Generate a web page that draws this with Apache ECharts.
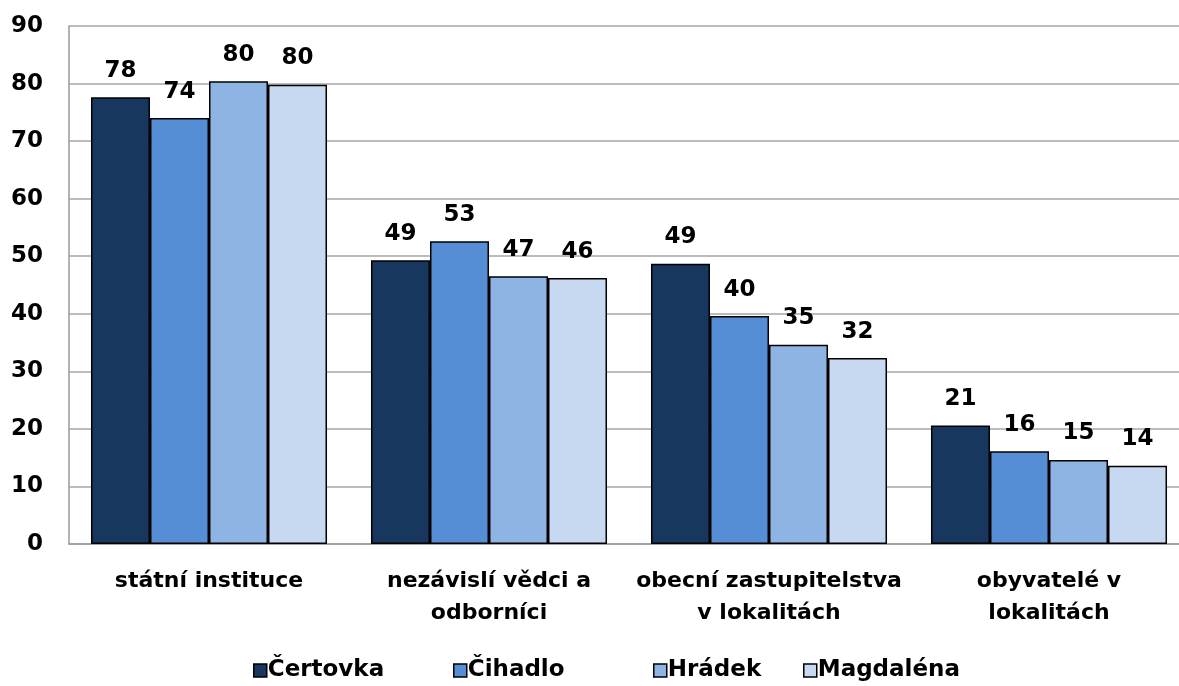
<!DOCTYPE html>
<html><head><meta charset="utf-8">
<script src="https://cdn.jsdelivr.net/npm/echarts@6/dist/echarts.min.js"></script>
<style>html,body{margin:0;padding:0;background:#fff}#c{width:1179px;height:686px}</style>
</head><body><div id="c"></div>
<script>
var categories = ['státní instituce', 'nezávislí vědci a\nodborníci', 'obecní zastupitelstva\nv lokalitách', 'obyvatelé v\nlokalitách'];
var seriesNames = ['Čertovka', 'Čihadlo', 'Hrádek', 'Magdaléna'];
var certovka = [77.6, 49.3, 48.7, 20.6];
var cihadlo = [74.0, 52.6, 39.6, 16.1];
var hradek = [80.4, 46.5, 34.6, 14.6];
var magdalena = [79.8, 46.2, 32.3, 13.6];
var yTicks = [0, 10, 20, 30, 40, 50, 60, 70, 80, 90];
var colors = ['#17375E', '#558ED5', '#8EB4E3', '#C6D9F1'];
var values = [certovka, cihadlo, hradek, magdalena];
var font = '"DejaVu Sans", sans-serif';

var chart = echarts.init(document.getElementById('c'));
var legendLefts = [248, 448, 648, 798];
var legends = seriesNames.map(function (n, i) {
  return {
    data: [n], left: legendLefts[i], top: 654, itemWidth: 13, itemHeight: 13, itemGap: 4,
    icon: 'rect',
    textStyle: { fontFamily: font, fontWeight: 'bold', fontSize: 23, color: '#000', padding: [0, 0, 0, -4] },
    itemStyle: { borderColor: '#000', borderWidth: 1.5 }
  };
});
chart.setOption({
  animation: false,
  legend: legends,
  grid: { left: 69, top: 26, width: 1120, height: 518, containLabel: false, outerBoundsMode: 'none' },
  xAxis: {
    type: 'category', data: categories,
    axisLine: { show: true, lineStyle: { color: '#9a9a9a', width: 1.5 } },
    axisTick: { show: false },
    axisLabel: { fontFamily: font, fontWeight: 'bold', fontSize: 22, color: '#000', margin: 21, lineHeight: 32, interval: 0 }
  },
  yAxis: {
    type: 'value', min: 0, max: 90, interval: 10,
    axisLine: { show: true, lineStyle: { color: '#9a9a9a', width: 1.5 } },
    axisTick: { show: false },
    splitLine: { show: true, lineStyle: { color: '#a6a6a6', width: 1.5 } },
    axisLabel: { fontFamily: font, fontWeight: 'bold', fontSize: 23, color: '#000', margin: 26,
      formatter: function (v) { return yTicks.indexOf(v) >= 0 ? String(v) : ''; } }
  },
  series: seriesNames.map(function (n, i) {
    return {
      name: n, type: 'bar', data: values[i], barGap: '0%', barCategoryGap: '15.7%',
      itemStyle: { color: colors[i], borderColor: '#000', borderWidth: 1.5 },
      label: { show: true, position: 'top', distance: 15, fontFamily: font, fontWeight: 'bold', fontSize: 23, color: '#000',
        formatter: function (p) { return Math.round(p.value); } }
    };
  })
});
</script></body></html>
